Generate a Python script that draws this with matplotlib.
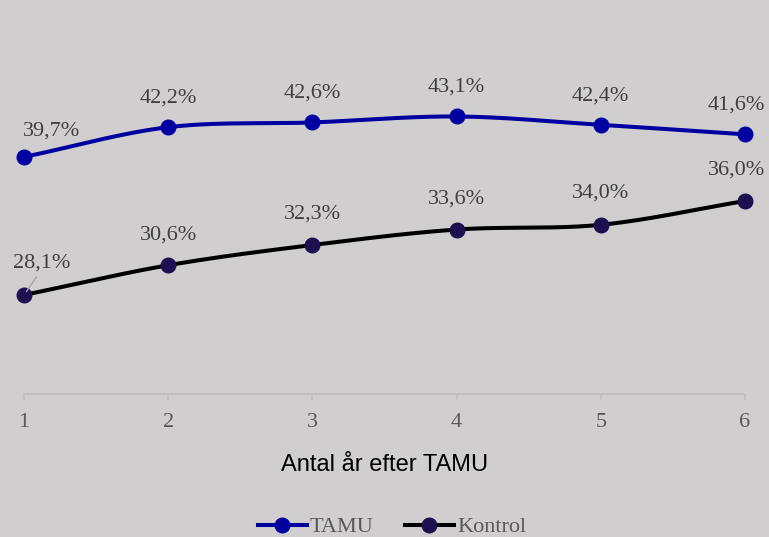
import numpy as np
import matplotlib
matplotlib.use("Agg")
import matplotlib.pyplot as plt
from matplotlib.lines import Line2D

years = [1, 2, 3, 4, 5, 6]
tamu = [39.7, 42.2, 42.6, 43.1, 42.4, 41.6]
kontrol = [28.1, 30.6, 32.3, 33.6, 34.0, 36.0]
series_names = ["TAMU", "Kontrol"]
xlabel = "Antal år efter TAMU"

BG = "#D0CECE"
BLUE = "#0000A0"
DARK = "#1E0F50"
LABEL_C = "#404040"
SERIF = ["Liberation Serif", "DejaVu Serif"]
NARROW = ["Liberation Sans Narrow", "Liberation Sans", "DejaVu Sans"]


def smooth(x, y, n=40, t=0.5):
    x = np.asarray(x, float); y = np.asarray(y, float)
    px = np.concatenate([[2 * x[0] - x[1]], x, [2 * x[-1] - x[-2]]])
    py = np.concatenate([[2 * y[0] - y[1]], y, [2 * y[-1] - y[-2]]])
    xs, ys = [], []
    for i in range(1, len(px) - 2):
        p0, p1, p2, p3 = [np.array([px[j], py[j]]) for j in range(i - 1, i + 3)]
        m1 = t * (p2 - p0); m2 = t * (p3 - p1)
        s = np.linspace(0, 1, n)[:, None]
        h00 = 2 * s**3 - 3 * s**2 + 1; h10 = s**3 - 2 * s**2 + s
        h01 = -2 * s**3 + 3 * s**2; h11 = s**3 - s**2
        c = h00 * p1 + h10 * m1 + h01 * p2 + h11 * m2
        xs.append(c[:, 0]); ys.append(c[:, 1])
    return np.concatenate(xs), np.concatenate(ys)


fig = plt.figure(figsize=(7.69, 5.37), dpi=100, facecolor=BG)
ax = fig.add_axes([24 / 769, 1 - 394 / 537, (745 - 24) / 769, (394 - 37) / 537])
ax.set_facecolor(BG)
ax.set_xlim(1, 6)
ax.set_ylim(19.78, 49.78)

for vals, lc, mc in [(tamu, BLUE, BLUE), (kontrol, "black", DARK)]:
    sx, sy = smooth(years, vals)
    ax.plot(sx, sy, color=lc, lw=2.9, zorder=3, clip_on=False, solid_capstyle="round")
    ax.plot(years, vals, ls="none", marker="o", ms=10.5, mfc=mc, mec=mc, zorder=4, clip_on=False)

def fmt(v):
    return f"{v:.1f}".replace(".", ",") + "%"

offsets_t = [(20, 19), (0, 21), (0, 21), (0, 21), (0, 21), (-6, 21)]
offsets_k = [(13, 23), (0, 22), (0, 22), (0, 22), (0, 23), (-6, 22)]
for vals, offs in [(tamu, offsets_t), (kontrol, offsets_k)]:
    for x, v, o in zip(years, vals, offs):
        ax.annotate(fmt(v), (x, v), xytext=o, textcoords="offset points",
                    ha="center", va="center", fontsize=16, color=LABEL_C,
                    family=SERIF, zorder=5, annotation_clip=False)
# leader line for first Kontrol label
ax.annotate("", (years[0], kontrol[0]), xytext=(9, 13), textcoords="offset points",
            arrowprops=dict(arrowstyle="-", color="#A6A6A6", lw=1, shrinkA=0, shrinkB=3),
            zorder=5, annotation_clip=False)

for s in ["top", "right", "left"]:
    ax.spines[s].set_visible(False)
ax.spines["bottom"].set_color("#BFBFBF")
ax.spines["bottom"].set_linewidth(1.2)
ax.set_yticks([])
ax.set_xticks(years)
ax.set_xticklabels([str(y) for y in years])
ax.tick_params(axis="x", length=4, width=1.2, color="#BFBFBF", pad=10,
               labelsize=16, labelcolor="#595959")
for lbl in ax.get_xticklabels():
    lbl.set_family(SERIF)

fig.text(385 / 769, 1 - 465 / 537, xlabel, ha="center", va="center",
         fontsize=17, color="black", family=NARROW)

handles = [Line2D([], [], color=BLUE, lw=2.9, marker="o", ms=10.5, mfc=BLUE, mec=BLUE),
           Line2D([], [], color="black", lw=2.9, marker="o", ms=10.5, mfc=DARK, mec=DARK)]
leg = fig.legend(handles, series_names, loc="center", bbox_to_anchor=(392 / 769, 1 - 527 / 537),
                 ncol=2, frameon=False, handlelength=2.2, handletextpad=0.15, columnspacing=1.4,
                 prop={"family": SERIF, "size": 16})
for t in leg.get_texts():
    t.set_color("#595959")

fig.savefig("out.png", dpi=100, facecolor=BG)
